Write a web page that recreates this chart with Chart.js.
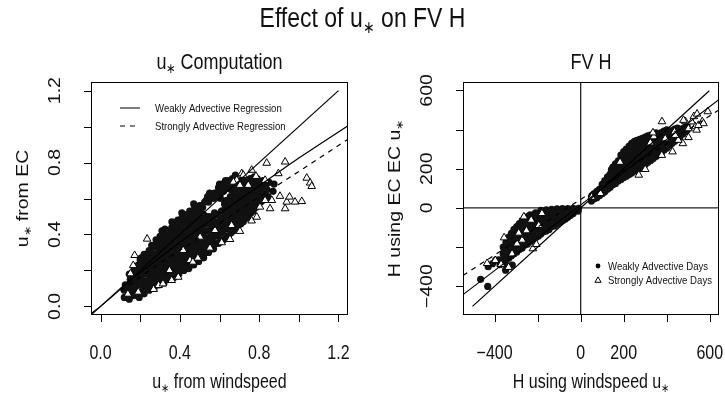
<!DOCTYPE html>
<html>
<head>
<meta charset="utf-8">
<script src="https://cdn.jsdelivr.net/npm/chart.js@4.4.1/dist/chart.umd.min.js"></script>
<style>
  html, body { margin: 0; padding: 0; background: #fff; }
  #wrap { position: relative; width: 725px; height: 399px; }
  #wrap canvas { position: absolute; left: 0; top: 0; }
</style>
</head>
<body>
<div id="wrap">
  <canvas id="ustarChart" width="725" height="399"></canvas>
  <canvas id="fluxChart" width="725" height="399"></canvas>
</div>
<script>
// ---- data ----
// left panel: u* from windspeed (x) vs u* from EC (y)
const weakUstar = [
  [0.12,0.05],[0.12,0.09],[0.125,0.12],
  [0.145,0.04],[0.14,0.08],[0.145,0.11],[0.15,0.15],[0.145,0.18],
  [0.17,0.06],[0.165,0.10],[0.17,0.13],[0.175,0.17],[0.17,0.21],
  [0.195,0.05],[0.19,0.08],[0.195,0.12],[0.2,0.16],[0.195,0.19],[0.19,0.23],[0.2,0.26],
  [0.22,0.07],[0.215,0.11],[0.22,0.14],[0.225,0.18],[0.22,0.22],[0.215,0.25],[0.22,0.29],
  [0.245,0.09],[0.24,0.12],[0.25,0.16],[0.245,0.20],[0.24,0.24],[0.25,0.27],[0.245,0.31],
  [0.27,0.10],[0.265,0.14],[0.27,0.18],[0.275,0.21],[0.27,0.25],[0.265,0.29],[0.275,0.33],[0.28,0.37],
  [0.295,0.12],[0.29,0.16],[0.3,0.19],[0.295,0.23],[0.29,0.27],[0.3,0.31],[0.295,0.35],[0.3,0.39],
  [0.32,0.13],[0.315,0.17],[0.325,0.21],[0.32,0.25],[0.315,0.29],[0.325,0.33],[0.32,0.37],[0.325,0.43],
  [0.345,0.15],[0.34,0.19],[0.35,0.23],[0.345,0.27],[0.34,0.31],[0.35,0.35],[0.345,0.39],[0.34,0.42],
  [0.37,0.16],[0.365,0.20],[0.375,0.24],[0.37,0.28],[0.365,0.32],[0.375,0.36],[0.37,0.40],[0.38,0.45],
  [0.395,0.18],[0.39,0.22],[0.4,0.26],[0.395,0.30],[0.39,0.34],[0.4,0.38],[0.395,0.42],[0.39,0.48],
  [0.42,0.20],[0.415,0.24],[0.425,0.28],[0.42,0.32],[0.415,0.36],[0.425,0.40],[0.42,0.44],[0.415,0.47],[0.425,0.51],
  [0.445,0.21],[0.44,0.25],[0.45,0.29],[0.445,0.33],[0.44,0.37],[0.45,0.41],[0.445,0.45],[0.44,0.49],[0.45,0.53],
  [0.47,0.23],[0.465,0.27],[0.475,0.31],[0.47,0.35],[0.465,0.39],[0.475,0.43],[0.47,0.47],[0.465,0.51],[0.475,0.55],
  [0.495,0.25],[0.49,0.29],[0.5,0.33],[0.495,0.37],[0.49,0.41],[0.5,0.45],[0.495,0.49],[0.49,0.53],[0.5,0.56],
  [0.52,0.27],[0.515,0.31],[0.525,0.35],[0.52,0.39],[0.515,0.43],[0.525,0.47],[0.52,0.51],[0.515,0.55],[0.525,0.58],
  [0.545,0.30],[0.54,0.34],[0.55,0.38],[0.545,0.42],[0.54,0.46],[0.55,0.50],[0.545,0.58],[0.54,0.61],
  [0.57,0.32],[0.565,0.36],[0.575,0.40],[0.57,0.44],[0.565,0.48],[0.575,0.52],[0.57,0.60],[0.575,0.63],
  [0.595,0.35],[0.59,0.39],[0.6,0.43],[0.595,0.47],[0.59,0.51],[0.6,0.62],[0.595,0.66],
  [0.62,0.37],[0.615,0.41],[0.625,0.45],[0.62,0.49],[0.615,0.53],[0.625,0.57],[0.62,0.64],[0.615,0.68],
  [0.645,0.39],[0.64,0.43],[0.65,0.47],[0.645,0.51],[0.64,0.55],[0.65,0.59],[0.645,0.66],[0.64,0.70],
  [0.67,0.42],[0.665,0.46],[0.675,0.50],[0.67,0.54],[0.665,0.58],[0.675,0.62],[0.67,0.67],[0.665,0.71],
  [0.695,0.45],[0.69,0.49],[0.7,0.53],[0.695,0.57],[0.69,0.61],[0.7,0.65],[0.695,0.69],
  [0.72,0.47],[0.715,0.51],[0.725,0.55],[0.72,0.59],[0.715,0.63],[0.725,0.67],[0.72,0.71],
  [0.745,0.50],[0.74,0.54],[0.75,0.58],[0.745,0.62],[0.74,0.66],[0.75,0.70],
  [0.77,0.53],[0.765,0.57],[0.775,0.61],[0.77,0.65],[0.765,0.69],[0.775,0.72],
  [0.795,0.56],[0.79,0.60],[0.8,0.64],[0.795,0.68],[0.79,0.71],
  [0.82,0.59],[0.815,0.63],[0.825,0.67],[0.82,0.70],
  [0.845,0.61],[0.84,0.65],[0.85,0.69],
  [0.87,0.64],[0.875,0.68],
  [0.31,0.42],[0.36,0.47],[0.41,0.52],[0.47,0.57],[0.55,0.63],[0.63,0.70],[0.68,0.73],[0.6,0.68],
  // the dense core of the cloud
  [0.158,0.06],[0.16,0.10],[0.155,0.14],[0.16,0.18],
  [0.183,0.07],[0.18,0.11],[0.185,0.15],[0.183,0.19],[0.18,0.22],
  [0.208,0.08],[0.21,0.12],[0.205,0.16],[0.208,0.20],[0.21,0.24],[0.205,0.27],
  [0.233,0.10],[0.23,0.14],[0.235,0.18],[0.233,0.22],[0.23,0.26],[0.235,0.29],
  [0.258,0.11],[0.26,0.15],[0.255,0.19],[0.258,0.23],[0.26,0.27],[0.255,0.31],[0.258,0.34],
  [0.283,0.13],[0.28,0.17],[0.285,0.21],[0.283,0.25],[0.28,0.29],[0.285,0.33],[0.283,0.36],
  [0.308,0.14],[0.31,0.18],[0.305,0.22],[0.308,0.26],[0.31,0.30],[0.305,0.34],[0.308,0.38],
  [0.333,0.16],[0.33,0.20],[0.335,0.24],[0.333,0.28],[0.33,0.32],[0.335,0.36],[0.333,0.40],
  [0.358,0.17],[0.36,0.21],[0.355,0.25],[0.358,0.29],[0.36,0.33],[0.355,0.37],[0.358,0.41],[0.36,0.44],
  [0.383,0.19],[0.38,0.23],[0.385,0.27],[0.383,0.31],[0.38,0.35],[0.385,0.39],[0.383,0.43],[0.38,0.46],
  [0.408,0.21],[0.41,0.25],[0.405,0.29],[0.408,0.33],[0.41,0.37],[0.405,0.41],[0.408,0.45],[0.41,0.49],
  [0.433,0.22],[0.43,0.26],[0.435,0.30],[0.433,0.34],[0.43,0.38],[0.435,0.42],[0.433,0.46],[0.43,0.50],
  [0.458,0.24],[0.46,0.28],[0.455,0.32],[0.458,0.36],[0.46,0.40],[0.455,0.44],[0.458,0.48],[0.46,0.52],
  [0.483,0.26],[0.48,0.30],[0.485,0.34],[0.483,0.38],[0.48,0.42],[0.485,0.46],[0.483,0.50],[0.48,0.54],
  [0.508,0.28],[0.51,0.32],[0.505,0.36],[0.508,0.40],[0.51,0.44],[0.505,0.48],[0.508,0.52],[0.51,0.56],
  [0.533,0.30],[0.53,0.34],[0.535,0.38],[0.533,0.42],[0.53,0.46],[0.535,0.50],[0.533,0.59],
  [0.558,0.33],[0.56,0.37],[0.555,0.41],[0.558,0.45],[0.56,0.49],[0.555,0.61],
  [0.583,0.35],[0.58,0.39],[0.585,0.43],[0.583,0.47],[0.58,0.51],[0.585,0.63],
  [0.608,0.37],[0.61,0.41],[0.605,0.45],[0.608,0.49],[0.61,0.53],[0.605,0.60],[0.608,0.65],
  [0.633,0.39],[0.63,0.43],[0.635,0.47],[0.633,0.51],[0.63,0.55],[0.635,0.59],[0.633,0.66],
  [0.658,0.41],[0.66,0.45],[0.655,0.49],[0.658,0.53],[0.66,0.57],[0.655,0.61],[0.658,0.65],[0.66,0.69],
  [0.683,0.44],[0.68,0.48],[0.685,0.52],[0.683,0.56],[0.68,0.60],[0.685,0.64],[0.683,0.68],
  [0.708,0.46],[0.71,0.50],[0.705,0.54],[0.708,0.58],[0.71,0.62],[0.705,0.66],[0.708,0.70],
  [0.733,0.49],[0.73,0.53],[0.735,0.57],[0.733,0.61],[0.73,0.65],[0.735,0.69],
  [0.758,0.52],[0.76,0.56],[0.755,0.60],[0.758,0.64],[0.76,0.68],[0.755,0.71],
  [0.783,0.55],[0.78,0.59],[0.785,0.63],[0.783,0.67],[0.78,0.70],
  [0.808,0.58],[0.81,0.62],[0.805,0.66],[0.808,0.69],
  [0.833,0.60],[0.83,0.64],[0.835,0.68]
];
const strongUstar = [
  [0.138,0.069],[0.151,0.182],[0.165,0.228],[0.172,0.284],[0.235,0.375],[0.19,0.08],
  [0.268,0.095],[0.293,0.117],[0.315,0.126],[0.359,0.145],[0.392,0.163],[0.348,0.2],
  [0.417,0.312],[0.451,0.256],[0.466,0.247],[0.491,0.269],[0.502,0.386],[0.552,0.325],
  [0.577,0.423],[0.611,0.355],[0.653,0.373],[0.661,0.451],[0.703,0.418],[0.762,0.476],
  [0.788,0.497],[0.804,0.553],[0.745,0.674],[0.687,0.702],[0.703,0.674],[0.67,0.692],
  [0.712,0.739],[0.72,0.73],[0.762,0.758],[0.784,0.724],[0.83,0.702],[0.83,0.59],
  [0.855,0.544],[0.864,0.59],[0.905,0.613],[0.931,0.544],[0.939,0.581],[0.953,0.609],
  [0.981,0.581],[1.015,0.584],[0.838,0.797],[0.931,0.804],[0.897,0.739],[1.04,0.714],
  [1.057,0.687],[1.065,0.668]
];
const oneToOneUstar = [[-0.048,-0.048],[1.2,1.2]];
const weakRegUstar = [[-0.048,-0.04],[0.0,0.0],[0.17,0.16],[0.4,0.355],[0.6,0.515],[0.89,0.74],[1.0,0.825],[1.248,1.005]];
const strongRegUstar = [[0.1,0.085],[0.3,0.24],[0.5,0.385],[0.7,0.535],[0.93,0.70],[1.248,0.93]];

// right panel: H using windspeed u* (x) vs H using EC u* (y)
const weakFlux = [
  [-10,-2],[-12,-16],[-35,-2],[-35,-28],[-60,-3],[-60,-25],[-60,-48],
  [-85,-4],[-85,-30],[-85,-55],[-85,-66],[-110,-5],[-110,-35],[-110,-60],[-110,-82],
  [-135,-7],[-135,-35],[-135,-65],[-135,-95],[-160,-10],[-160,-40],[-160,-70],[-160,-100],[-160,-118],
  [-185,-12],[-185,-45],[-185,-75],[-185,-105],[-185,-133],[-210,-25],[-210,-55],[-210,-85],[-210,-120],[-210,-152],
  [-235,-35],[-235,-65],[-235,-100],[-235,-135],[-235,-172],[-260,-50],[-260,-80],[-260,-115],[-260,-150],[-260,-190],
  [-285,-80],[-285,-115],[-285,-150],[-285,-185],[-285,-212],[-310,-110],[-310,-145],[-310,-180],[-310,-210],[-310,-235],
  [-335,-150],[-335,-185],[-335,-220],[-335,-258],[-360,-200],[-360,-235],[-360,-275],
  [-22,-8],[-47,-12],[-47,-38],[-72,-15],[-72,-42],[-72,-58],[-97,-18],[-97,-48],[-97,-72],
  [-122,-20],[-122,-50],[-122,-80],[-122,-92],[-147,-22],[-147,-55],[-147,-85],[-147,-110],
  [-172,-25],[-172,-58],[-172,-90],[-172,-122],[-197,-30],[-197,-65],[-197,-95],[-197,-128],[-197,-145],
  [-222,-40],[-222,-75],[-222,-110],[-222,-145],[-222,-165],[-247,-45],[-247,-85],[-247,-118],[-247,-155],[-247,-185],
  [-272,-65],[-272,-100],[-272,-135],[-272,-170],[-272,-205],[-297,-95],[-297,-130],[-297,-165],[-297,-200],[-297,-225],
  [-322,-130],[-322,-165],[-322,-200],[-322,-245],[-347,-175],[-347,-210],[-347,-250],
  [-380,-265],[-395,-267],[-364,-267],[-342,-294],[-349,-318],[-318,-292],[-465,-365],[-432,-401],
  [-430,-300],[-410,-285],[-375,-290],[-357,-265],
  [-30,-15],[-55,-14],[-55,-36],[-80,-18],[-80,-44],[-105,-22],[-105,-48],[-105,-70],
  [-130,-22],[-130,-50],[-130,-80],[-155,-26],[-155,-56],[-155,-86],[-180,-30],[-180,-62],[-180,-92],[-180,-120],
  [-205,-40],[-205,-72],[-205,-104],[-205,-136],[-230,-50],[-230,-82],[-230,-118],[-230,-152],
  [-255,-64],[-255,-98],[-255,-134],[-255,-170],[-280,-98],[-280,-132],[-280,-168],[-280,-198],
  [-305,-128],[-305,-162],[-305,-195],[-305,-222],[-330,-168],[-330,-202],[-330,-240],[-355,-218],[-355,-255],
  [50,35],[50,58],[75,52],[75,85],[100,72],[100,105],[100,120],[125,95],[125,128],[125,158],
  [150,118],[150,150],[150,182],[150,208],[175,138],[175,170],[175,205],[175,240],
  [200,155],[200,190],[200,225],[200,258],[200,288],[225,170],[225,205],[225,240],[225,275],[225,315],
  [250,188],[250,222],[250,258],[250,292],[250,340],[275,200],[275,238],[275,272],[275,305],[275,350],
  [300,222],[300,258],[300,292],[300,328],[300,362],[325,242],[325,278],[325,312],[325,345],[325,372],
  [350,262],[350,298],[350,332],[350,365],[350,383],[375,282],[375,318],[375,350],[375,385],
  [400,305],[400,340],[400,372],[400,398],[425,330],[425,362],[425,395],[450,352],[450,385],[450,408],
  [475,378],[475,405],[495,398],[495,418],
  [62,45],[62,72],[87,62],[87,95],[112,82],[112,115],[112,140],[137,105],[137,138],[137,172],
  [162,125],[162,160],[162,195],[162,225],[187,145],[187,180],[187,215],[187,250],[187,270],
  [212,162],[212,198],[212,232],[212,268],[212,300],[237,178],[237,212],[237,248],[237,282],[237,330],
  [262,192],[262,230],[262,265],[262,300],[262,345],[287,210],[287,248],[287,282],[287,318],[287,355],
  [312,232],[312,268],[312,302],[312,338],[312,368],[337,252],[337,288],[337,322],[337,355],
  [362,272],[362,308],[362,342],[362,375],[387,295],[387,330],[387,362],[387,392],
  [412,318],[412,352],[412,385],[437,340],[437,372],[437,402],[462,365],[462,395],[485,390],[485,412],
  [56,47],[68,60],[81,70],[94,88],[106,95],[118,100],[118,128],[131,118],[131,150],
  [143,132],[143,165],[143,195],[156,138],[156,172],[156,205],[168,150],[168,185],[168,215],
  [181,158],[181,195],[181,230],[193,170],[193,205],[193,240],[206,180],[206,215],[206,250],
  [218,188],[218,222],[218,258],[218,290],[231,195],[231,230],[231,265],[231,300],
  [243,205],[243,240],[243,272],[243,310],[256,210],[256,245],[256,280],[256,318],
  [268,220],[268,255],[268,290],[268,325],[281,228],[281,265],[281,300],[281,335],
  [293,238],[293,275],[293,310],[293,345],[306,245],[306,285],[306,318],[306,350],
  [318,258],[318,295],[318,328],[318,358],[331,265],[331,300],[331,335],[331,362],
  [343,280],[343,315],[343,348],[356,290],[356,322],[356,355],[368,300],[368,335],[368,365],
  [381,310],[381,345],[381,375],[393,320],[393,352],[393,382],[406,332],[406,365],[406,392],
  [418,345],[418,375],[431,355],[431,388],[443,365],[443,395],[456,378],[456,402],[468,388],[480,400]
];
const strongFlux = [
  [-356,-152],[-264,-45],[-230,-62],[-180,-28],[-288,-128],[-252,-116],[-272,-164],[-222,-208],
  [-435,-283],[-397,-268],[-370,-288],[-335,-303],[-206,-186],[-296,-183],[-319,-234],[-195,-89],
  [92,74],[51,55],[183,234],[270,168],[300,197],[324,333],[340,364],[336,384],[378,441],[377,269],
  [427,287],[475,329],[454,346],[501,360],[436,389],[439,371],[393,354],[501,405],[533,415],[539,398],
  [487,441],[516,440],[478,448],[526,467],[541,480],[565,441],[571,431],[547,422],[591,492]
];
const oneToOneFlux = [[-503,-503],[598,598]];
const weakRegFlux = [[-547,-443],[642,553]];
const strongRegFlux = [[-547,-345],[642,500]];

// axes
const ustarLimits = [-0.048, 1.248];
const fluxLimits = [-547, 643];
const ustarTicks = [0, 0.2, 0.4, 0.6, 0.8, 1.0, 1.2];
const ustarTickLabels = ['0.0', '', '0.4', '', '0.8', '', '1.2'];
const fluxTicks = [-400, -200, 0, 200, 400, 600];
const fluxTickLabels = ['\u2212400', '', '0', '200', '', '600'];

// text (pieces marked 1 are subscripts)
const mainTitle = [['Effect of u'], ['\u2217', 1], [' on FV H']];
const ustarPanelTitle = [['u'], ['\u2217', 1], [' Computation']];
const fluxPanelTitle = [['FV H']];
const ustarXTitle = [['u'], ['\u2217', 1], [' from windspeed']];
const ustarYTitle = [['u'], ['\u2217', 1], [' from EC']];
const fluxXTitle = [['H using windspeed u'], ['\u2217', 1]];
const fluxYTitle = [['H using EC EC u'], ['\u2217', 1]];
const regressionLegend = ['Weakly Advective Regression', 'Strongly Advective Regression'];
const daysLegend = ['Weakly Advective Days', 'Strongly Advective Days'];

const FONT = '"Liberation Sans", Arial, Helvetica, sans-serif';
const STRETCH = 1.22;   // the figure's text is taller than it is wide
const toXY = arr => arr.map(([x, y]) => ({ x, y }));

function richWidth(ctx, parts, size) {
    let w = 0;
    parts.forEach(([t, sub]) => {
        ctx.font = `${sub ? size * 0.62 : size}px ${FONT}`;
        w += ctx.measureText(t).width;
    });
    return w;
}

// draws at the current origin, baseline y=0, text running along +x
function drawRichHere(ctx, parts, size, align) {
    let cx = align === 'center' ? -richWidth(ctx, parts, size) / 2 : 0;
    ctx.textAlign = 'left';
    ctx.textBaseline = 'alphabetic';
    parts.forEach(([t, sub]) => {
        ctx.font = `${sub ? size * 0.62 : size}px ${FONT}`;
        ctx.fillText(t, cx, sub ? size * 0.2 : 0);
        cx += ctx.measureText(t).width;
    });
}

function textH(ctx, parts, x, y, size, align) {
    ctx.save();
    ctx.translate(x, y);
    ctx.scale(1, STRETCH);
    drawRichHere(ctx, parts, size, align);
    ctx.restore();
}

function textV(ctx, parts, x, y, size) {
    ctx.save();
    ctx.translate(x, y);
    ctx.rotate(-Math.PI / 2);
    ctx.scale(STRETCH, 1);
    drawRichHere(ctx, parts, size, 'center');
    ctx.restore();
}

function drawTriangle(ctx, x, y, r) {
    ctx.beginPath();
    ctx.moveTo(x, y - r);
    ctx.lineTo(x + r * 0.866, y + r * 0.5);
    ctx.lineTo(x - r * 0.866, y + r * 0.5);
    ctx.closePath();
    ctx.fillStyle = '#fff';
    ctx.fill();
    ctx.stroke();
}

// R-like frame, ticks, labels and titles
function panelPlugin(cfg) {
    return {
        id: 'rPanel',
        beforeDatasetsDraw(chart) {
            if (!cfg.zeroLines) return;
            const { ctx, chartArea: a, scales: { x, y } } = chart;
            const px = x.getPixelForValue(0);
            const py = y.getPixelForValue(0);
            ctx.save();
            ctx.strokeStyle = '#222';
            ctx.lineWidth = 1.3;
            ctx.beginPath();
            ctx.moveTo(px, a.top); ctx.lineTo(px, a.bottom);
            ctx.moveTo(a.left, py); ctx.lineTo(a.right, py);
            ctx.stroke();
            ctx.restore();
        },
        afterDraw(chart) {
            const { ctx, chartArea: a, scales: { x, y } } = chart;
            ctx.save();
            ctx.strokeStyle = '#000';
            ctx.fillStyle = '#111';
            ctx.lineWidth = 1;
            ctx.strokeRect(a.left + 0.5, a.top + 0.5, a.right - a.left - 1, a.bottom - a.top - 1);

            // ticks
            ctx.beginPath();
            cfg.ticks.forEach(v => {
                const p = Math.round(x.getPixelForValue(v)) + 0.5;
                ctx.moveTo(p, a.bottom); ctx.lineTo(p, a.bottom + 7);
            });
            cfg.ticks.forEach(v => {
                const p = Math.round(y.getPixelForValue(v)) + 0.5;
                ctx.moveTo(a.left, p); ctx.lineTo(a.left - 7, p);
            });
            ctx.stroke();

            cfg.ticks.forEach((v, i) => {
                if (!cfg.labels[i]) return;
                textH(ctx, [[cfg.labels[i]]], x.getPixelForValue(v), a.bottom + 44, 16, 'center');
                textV(ctx, [[cfg.labels[i]]], a.left - 31, y.getPixelForValue(v), 16);
            });

            const cxMid = (a.left + a.right) / 2;
            const cyMid = (a.top + a.bottom) / 2;
            textH(ctx, cfg.xTitle, cxMid, a.bottom + 73, 16, 'center');
            textV(ctx, cfg.yTitle, a.left - 63, cyMid, 16);
            textH(ctx, cfg.panelTitle, cxMid, a.top - 13, 18, 'center');
            if (cfg.mainTitle) textH(ctx, cfg.mainTitle, 362.5, 27, 23, 'center');

            if (cfg.lineLegend) {
                const L = cfg.lineLegend;
                L.texts.forEach((t, i) => {
                    const yy = L.y + i * L.dy;
                    ctx.setLineDash(i === 0 ? [] : [5, 5]);
                    ctx.beginPath();
                    ctx.moveTo(L.x, yy); ctx.lineTo(L.x + 20, yy);
                    ctx.stroke();
                    ctx.setLineDash([]);
                    textH(ctx, [[t]], L.x + 35, yy + 3.5, 9.6, 'left');
                });
            }
            if (cfg.pointLegend) {
                const P = cfg.pointLegend;
                P.texts.forEach((t, i) => {
                    const yy = P.y + i * P.dy;
                    if (i === 0) {
                        ctx.beginPath();
                        ctx.arc(P.x, yy, 2.4, 0, Math.PI * 2);
                        ctx.fillStyle = '#000';
                        ctx.fill();
                    } else {
                        drawTriangle(ctx, P.x, yy + 0.5, 3.6);
                    }
                    ctx.fillStyle = '#111';
                    textH(ctx, [[t]], P.x + 10, yy + 3.5, 9.6, 'left');
                });
            }
            ctx.restore();
        }
    };
}

function lineSet(points, dashed) {
    return {
        type: 'line',
        data: toXY(points),
        borderColor: '#000',
        borderWidth: 1.2,
        borderDash: dashed ? [5, 5] : [],
        pointRadius: 0,
        fill: false,
        cubicInterpolationMode: 'monotone',
        order: -1
    };
}

function buildPanel(canvasId, series, limits, padding, cfg) {
    return new Chart(document.getElementById(canvasId), {
        type: 'scatter',
        data: {
            datasets: [
                ...series.lines.map(l => lineSet(l.points, l.dashed)),
                {
                    data: toXY(series.strong),
                    pointStyle: 'triangle',
                    pointRadius: 4.4,
                    borderWidth: 1,
                    borderColor: '#000',
                    backgroundColor: '#fff',
                    order: 0
                },
                {
                    data: toXY(series.weak),
                    pointStyle: 'circle',
                    pointRadius: 3.6,
                    borderWidth: 0,
                    backgroundColor: '#111',
                    order: 1
                }
            ]
        },
        options: {
            responsive: false,
            animation: false,
            events: [],
            layout: { padding },
            scales: {
                x: { type: 'linear', min: limits[0], max: limits[1], display: false },
                y: { type: 'linear', min: limits[0], max: limits[1], display: false }
            },
            plugins: { legend: { display: false }, tooltip: { enabled: false } }
        },
        plugins: [panelPlugin(cfg)]
    });
}

buildPanel('ustarChart', {
    weak: weakUstar,
    strong: strongUstar,
    lines: [
        { points: oneToOneUstar },
        { points: weakRegUstar },
        { points: strongRegUstar, dashed: true }
    ]
}, ustarLimits, { left: 91, right: 377, top: 82, bottom: 84 }, {
    ticks: ustarTicks, labels: ustarTickLabels,
    xTitle: ustarXTitle, yTitle: ustarYTitle, panelTitle: ustarPanelTitle,
    mainTitle: mainTitle,
    lineLegend: { texts: regressionLegend, x: 120, y: 108, dy: 18 }
});

buildPanel('fluxChart', {
    weak: weakFlux,
    strong: strongFlux,
    lines: [
        { points: oneToOneFlux },
        { points: weakRegFlux },
        { points: strongRegFlux, dashed: true }
    ]
}, fluxLimits, { left: 463, right: 6, top: 82, bottom: 84 }, {
    ticks: fluxTicks, labels: fluxTickLabels,
    xTitle: fluxXTitle, yTitle: fluxYTitle, panelTitle: fluxPanelTitle,
    zeroLines: true,
    pointLegend: { texts: daysLegend, x: 598, y: 266, dy: 14 }
});
</script>
</body>
</html>
